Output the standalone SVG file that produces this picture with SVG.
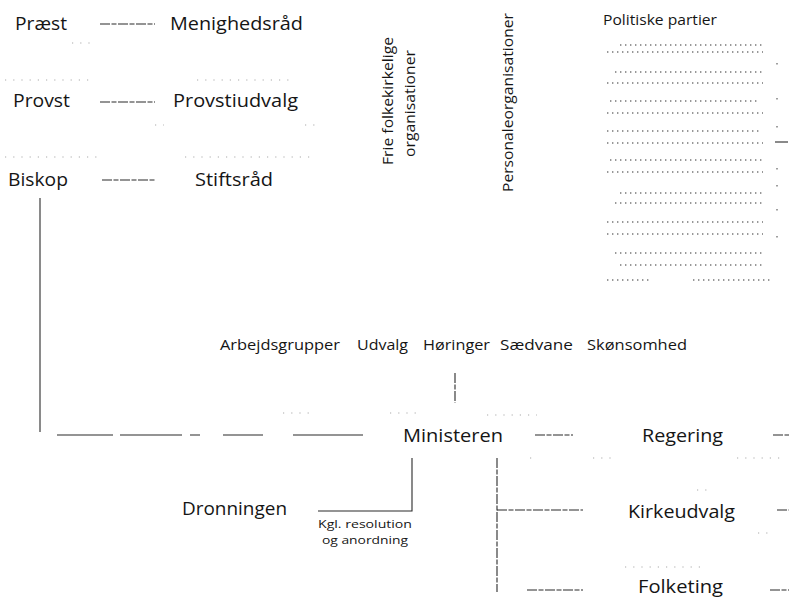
<svg xmlns="http://www.w3.org/2000/svg" width="789" height="608" viewBox="0 0 789 608">
<style>
  .t{font-family:"Open Sans","Liberation Sans",sans-serif;fill:#151515}
  .big{font-size:19px}
  .mid{font-size:14px}
  .sm{font-size:11.5px}
  .c{fill:none;stroke:#2a2a2a;stroke-width:1.1}
  .d{stroke-dasharray:10 1.5 5 1.5}
  .n{fill:none;stroke:#777;stroke-width:1.4;stroke-dasharray:1.4 3.6}
  .f{fill:none;stroke:#aaa;stroke-width:1.1;stroke-dasharray:1.2 7}
</style>
<rect width="789" height="608" fill="#fff"/>

<g id="noise">
  <path class="f" d="M5 80H95M197 80H290M5 157H100M185 157H310M72 43H96M155 125H164M305 125H316"/>
  <path class="f" d="M283 413H310M390 413H420M487 415H537M530 458H537M593 458H613M737 458H780M697 490H710M758 533H770M625 567H707"/>
</g>

<g id="connectors">
  <path class="c d" d="M100 24H155"/>
  <path class="c d" d="M100 102H155"/>
  <path class="c d" d="M102 180H155"/>
  <path class="c" d="M40 198V432"/>
  <path class="c" d="M57 435H113M120 435H182M190 435H200M223 435H263M293 435H363"/>
  <path class="c d" d="M455 373V403"/>
  <path class="c d" d="M535 435H573"/>
  <path class="c d" d="M773 435H789"/>
  <path class="c" d="M412 458V511H318"/>
  <path class="c d" d="M497 458V592"/>
  <path class="c d" d="M497 510H583"/>
  <path class="c d" d="M527 590H583"/>
  <path class="c d" d="M777 510H789"/>
  <path class="c d" d="M770 590H789"/>
</g>

<g id="praest"><text class="t big" x="15" y="30" textLength="52" lengthAdjust="spacingAndGlyphs">Præst</text></g>
<g id="menighedsraad"><text class="t big" x="170" y="30" textLength="133" lengthAdjust="spacingAndGlyphs">Menighedsråd</text></g>
<g id="provst"><text class="t big" x="13" y="107" textLength="57" lengthAdjust="spacingAndGlyphs">Provst</text></g>
<g id="provstiudvalg"><text class="t big" x="173" y="107" textLength="125" lengthAdjust="spacingAndGlyphs">Provstiudvalg</text></g>
<g id="biskop"><text class="t big" x="8" y="186" textLength="60" lengthAdjust="spacingAndGlyphs">Biskop</text></g>
<g id="stiftsraad"><text class="t big" x="195" y="186" textLength="78" lengthAdjust="spacingAndGlyphs">Stiftsråd</text></g>

<g id="frie">
  <text class="t mid" transform="translate(393,165) rotate(-90)" textLength="128" lengthAdjust="spacingAndGlyphs">Frie folkekirkelige</text>
  <text class="t mid" transform="translate(415,157) rotate(-90)" textLength="107" lengthAdjust="spacingAndGlyphs">organisationer</text>
</g>
<g id="personale">
  <text class="t mid" transform="translate(513,192) rotate(-90)" textLength="179" lengthAdjust="spacingAndGlyphs">Personaleorganisationer</text>
</g>

<g id="partier">
  <text class="t" style="font-size:15px" x="603" y="25" textLength="114" lengthAdjust="spacingAndGlyphs">Politiske partier</text>
  <path class="n" d="M620 45H763M607 52H763"/>
  <path class="n" d="M615 72H763M607 83H763"/>
  <path class="n" d="M610 101H760M607 113H763"/>
  <path class="n" d="M607 131H760M607 143H763"/>
  <path class="n" d="M610 160H763M607 172H763"/>
  <path class="n" d="M620 193H763M615 203H763"/>
  <path class="n" d="M607 222H763M607 234H763"/>
  <path class="n" d="M615 253H763M620 265H763"/>
  <path class="n" d="M607 280H650M693 280H770"/>
  <path class="n" d="M777 63V66M777 98V101M777 126V129M777 168V171M777 185V188M777 209V212M777 236V239"/>
  <path class="c" d="M775 142H788"/>
</g>

<g id="arbejdsgrupper"><text class="t mid" x="220" y="350" textLength="120" lengthAdjust="spacingAndGlyphs">Arbejdsgrupper</text></g>
<g id="udvalg"><text class="t mid" x="357" y="350" textLength="51" lengthAdjust="spacingAndGlyphs">Udvalg</text></g>
<g id="hoeringer"><text class="t mid" x="423" y="350" textLength="67" lengthAdjust="spacingAndGlyphs">Høringer</text></g>
<g id="saedvane"><text class="t mid" x="500" y="350" textLength="73" lengthAdjust="spacingAndGlyphs">Sædvane</text></g>
<g id="skoensomhed"><text class="t mid" x="587" y="350" textLength="100" lengthAdjust="spacingAndGlyphs">Skønsomhed</text></g>

<g id="ministeren"><text class="t big" x="403" y="442" textLength="100" lengthAdjust="spacingAndGlyphs">Ministeren</text></g>
<g id="regering"><text class="t big" x="642" y="442" textLength="81" lengthAdjust="spacingAndGlyphs">Regering</text></g>
<g id="dronningen"><text class="t big" x="182" y="515" textLength="105" lengthAdjust="spacingAndGlyphs">Dronningen</text></g>
<g id="kgl">
  <text class="t sm" x="318" y="528" textLength="94" lengthAdjust="spacingAndGlyphs">Kgl. resolution</text>
  <text class="t sm" x="322" y="544" textLength="86" lengthAdjust="spacingAndGlyphs">og anordning</text>
</g>
<g id="kirkeudvalg"><text class="t big" x="628" y="518" textLength="107" lengthAdjust="spacingAndGlyphs">Kirkeudvalg</text></g>
<g id="folketing"><text class="t big" x="638" y="593" textLength="85" lengthAdjust="spacingAndGlyphs">Folketing</text></g>
</svg>
